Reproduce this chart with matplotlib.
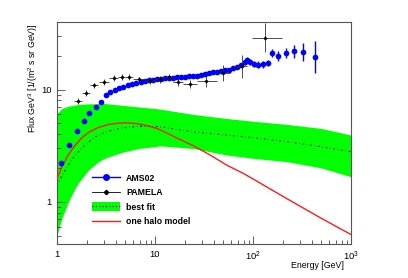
import numpy as np
import matplotlib
matplotlib.use("Agg")
import matplotlib.pyplot as plt
from matplotlib.lines import Line2D
from matplotlib.patches import Patch
from matplotlib.ticker import FixedLocator, FixedFormatter, LogLocator, NullFormatter

# ---- data ----
ams_E = [1.10, 1.33, 1.59, 1.87, 2.14, 2.48, 2.83, 3.16, 3.5, 3.88, 4.3, 4.75, 5.27, 5.82,
         6.45, 7.14, 7.9, 8.7, 9.6, 10.5, 11.6, 12.7, 13.9, 15.3, 16.8, 18.5, 20.3, 22.3,
         24.5, 26.9, 29.6, 32.5, 35.7, 39.2, 43.1, 47.3, 52.0, 57.1, 62.7, 68.9, 75.7,
         83.2, 87, 93, 103, 113, 127, 141, 157, 180, 215, 262, 325, 425]
ams_F = [2.2, 3.2, 4.3, 5.2, 6.2, 7.0, 7.8, 9.0, 9.5, 9.9, 10.3, 10.6, 10.9, 11.2,
         11.5, 11.7, 11.9, 12.1, 12.2, 12.3, 12.5, 12.7, 12.8, 12.8, 12.9, 12.9, 13.0, 13.1,
         13.2, 13.3, 13.4, 13.7, 14.0, 14.2, 14.3, 14.5, 14.8, 15.0, 15.5, 16.0, 16.6,
         17.5, 18.5, 17.6, 17.0, 16.7, 16.8, 17.2, 21.3, 19.8, 21.2, 21.9, 21.6, 19.5]
ams_err_dex = [0.004] * 30 + [0.008, 0.008, 0.01, 0.01, 0.012, 0.012, 0.014, 0.015, 0.016,
                               0.018, 0.02, 0.022, 0.024, 0.026, 0.026, 0.028, 0.03, 0.03,
                               0.035, 0.045, 0.045, 0.06, 0.08, 0.14]

pam_E = [1.65, 1.96, 2.37, 3.04, 3.84, 4.6, 5.38, 6.9, 8.9, 11.2, 13.8, 17.2, 23.0, 33.0, 49.4, 76.5, 134]
pam_F = [7.9, 9.3, 10.9, 11.7, 12.6, 13.0, 13.0, 12.3, 12.0, 12.3, 12.9, 11.7, 11.3, 11.8, 14.0, 16.1, 29.0]
pam_Elo = [1.5, 1.8, 2.15, 2.7, 3.4, 4.2, 4.9, 5.95, 7.9, 10.2, 12.1, 15.2, 19.3, 26.8, 42.7, 62.5, 98]
pam_Ehi = [1.8, 2.15, 2.6, 3.4, 4.2, 4.9, 5.9, 7.9, 10.2, 12.1, 15.2, 19.3, 26.8, 42.7, 58, 86, 198]
pam_err_dex = [0.03, 0.03, 0.025, 0.025, 0.025, 0.025, 0.025, 0.025, 0.03, 0.03, 0.03,
               0.035, 0.035, 0.05, 0.07, 0.1, 0.13]

band_E = [1.0, 1.12, 1.31, 1.53, 1.65, 1.79, 2.09, 2.64, 3.09, 3.34, 4.57, 6.75, 10, 11.2,
          24.7, 53.9, 104.6, 228, 500, 1000]
band_hi = [6.1, 6.78, 7.1, 7.28, 7.35, 7.4, 7.45, 7.5, 7.5, 7.45, 7.25, 7.0, 6.78, 6.7,
           6.0, 5.52, 5.2, 4.88, 4.5, 3.93]
band_lo = [0.5, 0.71, 1.0, 1.32, 1.47, 1.61, 1.91, 2.27, 2.45, 2.51, 2.75, 2.98, 3.1, 3.15,
           2.98, 2.61, 2.43, 2.27, 2.0, 1.67]

fit_E = [1.0, 1.21, 1.53, 1.93, 2.44, 3.34, 4.57, 6.75, 10, 12.6, 24.7, 53.9, 104.6, 228, 500, 1000]
fit_F = [1.41, 1.91, 2.6, 3.19, 3.79, 4.26, 4.55, 4.7, 4.69, 4.59, 4.2, 3.93, 3.71, 3.42, 3.09, 2.79]

halo_E = [1.0, 1.12, 1.31, 1.53, 1.79, 2.09, 2.64, 3.34, 4.22, 5.13, 6.75, 8.56, 10.8,
          16.6, 24.7, 36.5, 53.9, 79.5, 104.6, 228, 500, 1000]
halo_F = [1.61, 2.05, 2.64, 3.19, 3.71, 4.14, 4.59, 4.88, 5.01, 5.05, 4.95, 4.74, 4.45,
          3.71, 3.15, 2.61, 2.12, 1.79, 1.56, 1.05, 0.71, 0.51]

xticks = [1, 10, 100, 1000]
xticklabels = ["1", "10", "$10^{2}$", "$10^{3}$"]
yticks = [1, 10]
yticklabels = ["1", "10"]

# ---- plot ----
plt.rcParams['font.family'] = ['Liberation Sans', 'DejaVu Sans']
plt.rcParams['mathtext.fontset'] = 'custom'
plt.rcParams['mathtext.rm'] = 'Liberation Sans'

fig = plt.figure(figsize=(4.08, 2.78), dpi=100)
ax = fig.add_axes([57 / 408, 34 / 278, 294 / 408, 222 / 278])

ax.fill_between(band_E, band_lo, band_hi, color='#00ff00', lw=0, zorder=1)
ax.plot(fit_E, fit_F, color='black', lw=0.8, ls=(0, (1.5, 2.5, 0.5, 2.5)), zorder=2)
ax.plot(halo_E, halo_F, color='#ff1a1a', lw=1.0, zorder=3)

ams_E_a = np.array(ams_E); ams_F_a = np.array(ams_F); ad = np.array(ams_err_dex)
ax.errorbar(ams_E_a, ams_F_a,
            yerr=[ams_F_a * (1 - 10 ** -ad), ams_F_a * (10 ** ad - 1)],
            fmt='o', color='#0000ff', ms=4.1, mew=0, elinewidth=1.0, capsize=1.5,
            capthick=0.8, zorder=5)

pE = np.array(pam_E); pF = np.array(pam_F); pd = np.array(pam_err_dex)
ax.errorbar(pE, pF,
            xerr=[pE - np.array(pam_Elo), np.array(pam_Ehi) - pE],
            yerr=[pF * (1 - 10 ** -pd), pF * (10 ** pd - 1)],
            fmt='D', color='black', ms=2.2, mew=0, elinewidth=0.6, ecolor='#333333',
            capsize=1.2, capthick=0.6, zorder=6)

ax.set_xscale('log')
ax.set_yscale('log')
ax.set_xlim(1, 1000)
ax.set_ylim(0.42, 40)

ax.xaxis.set_major_locator(FixedLocator(xticks))
ax.xaxis.set_major_formatter(FixedFormatter(xticklabels))
ax.yaxis.set_major_locator(FixedLocator(yticks))
ax.yaxis.set_major_formatter(FixedFormatter(yticklabels))
ax.xaxis.set_minor_locator(LogLocator(base=10, subs=np.arange(2, 10)))
ax.yaxis.set_minor_locator(LogLocator(base=10, subs=np.arange(2, 10)))
ax.xaxis.set_minor_formatter(NullFormatter())
ax.yaxis.set_minor_formatter(NullFormatter())
ax.tick_params(which='both', direction='in', top=False, right=False, labelsize=6.8,
               color='#444444', width=0.6)
ax.tick_params(which='major', length=6, pad=4)
ax.tick_params(which='minor', length=3)
for s in ax.spines.values():
    s.set_linewidth(0.8)
    s.set_color('#555555')

fig.text(33 / 408, 1 - 23 / 278, "Flux GeV$^{3}$ [1/(m$^{2}$ s sr GeV)]", rotation=90,
         ha='center', va='top', fontsize=6.3)
fig.text(344 / 408, 1 - 265 / 278, "Energy [GeV]", ha='right', va='center', fontsize=6.3)

handles = [
    Line2D([], [], color='#0000ff', marker='o', ms=4, lw=1.0),
    Line2D([], [], color='black', marker='D', ms=2.2, lw=0.6),
    (Patch(color='#00ff00', lw=0), Line2D([], [], color='black', lw=0.8, ls=(0, (1, 2)))),
    Line2D([], [], color='#ff1a1a', lw=1.0),
]
labels = ["AMS02", "PAMELA", "best fit", "one halo model"]
leg = ax.legend(handles, labels, loc='upper left', bbox_to_anchor=(0.119, 0.318),
                frameon=False, fontsize=6.3, handlelength=3.2, handleheight=1.2,
                labelspacing=0.58, handletextpad=0.7, borderaxespad=0, borderpad=0)
for t in leg.get_texts():
    t.set_fontweight('bold')

fig.savefig("out.png", dpi=100)
